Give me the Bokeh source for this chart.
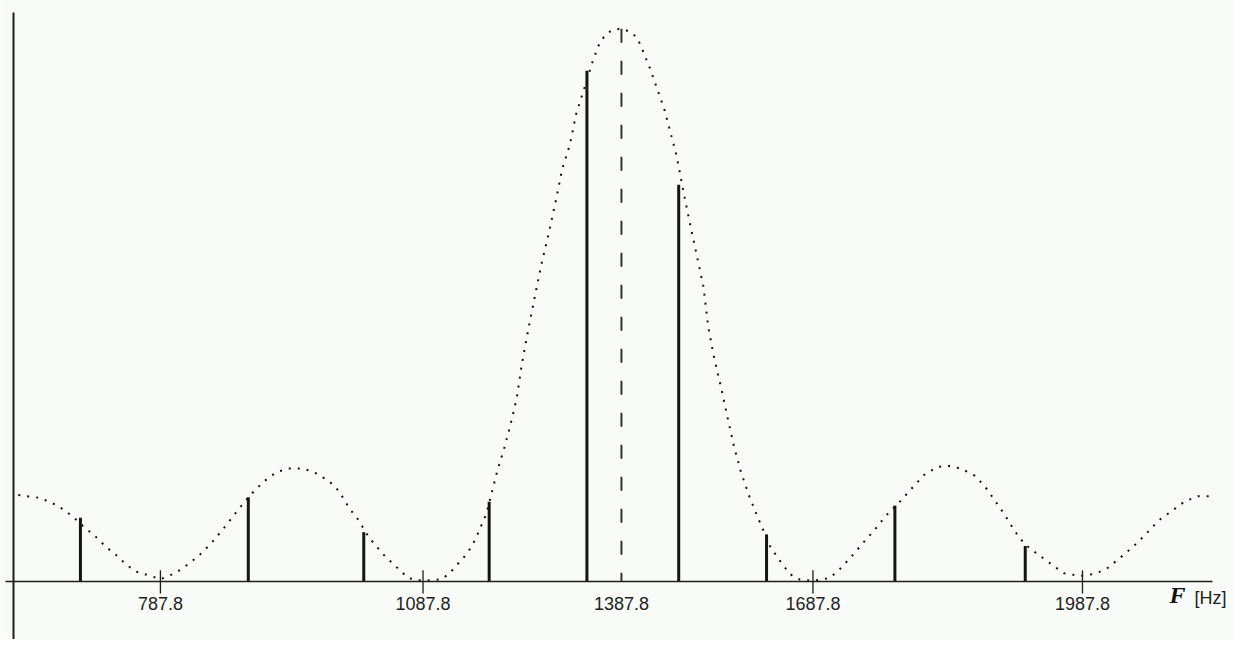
import numpy as np
from bokeh.plotting import figure
from bokeh.models import Range1d, LinearAxis, FixedTicker, Label, ColumnDataSource
from bokeh.embed import file_html
from bokeh.resources import INLINE

# ---------------- data (frequency in Hz, relative amplitude) ----------------
tick_freqs = [787.8, 1087.8, 1387.8, 1687.8, 1987.8]
tick_labels = ["787.8", "1087.8", "1387.8", "1687.8", "1987.8"]
marked_ticks = [787.8, 1087.8, 1687.8, 1987.8]

center_freq = 1387.8
center_amp = 1.0

line_freqs = [696.4, 888.2, 1020.1, 1187.8, 1335.6, 1477.5, 1615.1, 1779.0, 1924.1]
line_amps = [0.116, 0.153, 0.090, 0.145, 0.924, 0.718, 0.086, 0.138, 0.065]

env_freqs = [625.4, 650.2, 670.5, 686.3, 698.7, 714.5, 725.8, 737.0, 748.3, 759.6,
             774.3, 787.8, 804.7, 816.0, 830.7, 845.3, 861.1, 875.8, 890.4, 906.2,
             920.9, 935.5, 951.3, 966.0, 980.7, 991.9, 1003.2, 1014.5, 1025.8, 1041.6,
             1052.8, 1070.9, 1087.8, 1116.2, 1128.1, 1140.0, 1150.5, 1160.9, 1168.4, 1175.9,
             1183.3, 1190.8, 1199.7, 1210.2, 1220.6, 1229.6, 1237.1, 1247.5, 1257.9, 1266.9,
             1277.4, 1289.3, 1298.2, 1310.2, 1319.1, 1332.6, 1344.5, 1355.0, 1363.9, 1374.4,
             1387.8, 1400.2, 1412.5, 1420.3, 1432.6, 1443.5, 1454.3, 1463.6, 1474.4, 1485.2,
             1494.5, 1505.3, 1516.2, 1523.9, 1533.2, 1544.0, 1554.8, 1564.1, 1574.9, 1587.3,
             1602.7, 1621.3, 1639.9, 1652.2, 1664.6, 1687.8, 1706.5, 1717.5, 1730.7, 1742.7,
             1755.9, 1769.1, 1783.4, 1797.7, 1813.1, 1827.4, 1838.3, 1852.6, 1868.0, 1879.0,
             1890.0, 1901.0, 1912.0, 1923.0, 1937.3, 1951.5, 1966.9, 1984.5, 1999.9, 2014.2,
             2028.5, 2043.8, 2058.1, 2072.4, 2087.8, 2102.1, 2116.4, 2132.9]
env_amps = [0.157, 0.152, 0.138, 0.120, 0.102, 0.081, 0.063, 0.049, 0.032, 0.019,
            0.012, 0.005, 0.016, 0.028, 0.046, 0.069, 0.099, 0.129, 0.157, 0.182,
            0.199, 0.205, 0.205, 0.196, 0.182, 0.164, 0.134, 0.111, 0.081, 0.051,
            0.034, 0.007, 0.002, 0.005, 0.016, 0.032, 0.046, 0.063, 0.081, 0.102,
            0.122, 0.157, 0.199, 0.240, 0.287, 0.333, 0.393, 0.460, 0.522, 0.575,
            0.628, 0.693, 0.746, 0.792, 0.845, 0.896, 0.942, 0.975, 0.989, 0.998,
            1.000, 0.995, 0.984, 0.963, 0.928, 0.892, 0.857, 0.817, 0.769, 0.704,
            0.651, 0.593, 0.534, 0.460, 0.404, 0.351, 0.293, 0.245, 0.199, 0.157,
            0.113, 0.063, 0.032, 0.014, 0.005, 0.002, 0.007, 0.023, 0.046, 0.069,
            0.093, 0.120, 0.143, 0.169, 0.196, 0.208, 0.210, 0.205, 0.192, 0.173,
            0.148, 0.122, 0.093, 0.069, 0.051, 0.034, 0.016, 0.011, 0.014, 0.023,
            0.042, 0.063, 0.086, 0.111, 0.129, 0.146, 0.155, 0.155]

# ---------------- layout: the drawing's non-uniform frequency axis ----------------
anchor_freq = [600.0] + tick_freqs + [2200.0]
anchor_pos = [-4.5, 162, 428, 629, 823, 1096, 1289.1]


def warp(f):
    return np.interp(np.asarray(f, dtype=float), anchor_freq, anchor_pos)


BG = "#f9fbf8"
INK = "#1e1e1e"
TICK_HALF = 0.021  # half tick length in amplitude units

p = figure(width=1234, height=639,
           x_range=Range1d(0, 1250), y_range=Range1d(-0.104, 1.051),
           x_axis_type=None, y_axis_type=None,
           toolbar_location=None, output_backend="svg", min_border=0)
p.outline_line_color = None
p.background_fill_color = BG
p.border_fill_color = BG

# envelope (dotted)
env_src = ColumnDataSource(dict(x=warp(env_freqs), y=env_amps))
p.line("x", "y", source=env_src, line_color="#111111", line_width=2, line_dash="2 7")

# spectral lines
lx = warp(line_freqs)
ln_src = ColumnDataSource(dict(x=lx, y0=[0.0] * len(lx), y1=line_amps))
p.segment(x0="x", y0="y0", x1="x", y1="y1", source=ln_src,
          line_color="#151515", line_width=3)

# dashed centre line
cx = float(warp(center_freq))
p.segment(x0=[cx], y0=[center_amp], x1=[cx], y1=[0.0],
          line_color="#333333", line_width=2, line_dash="14 18")

# tick marks crossing the axis
mx = warp(marked_ticks)
p.segment(x0=mx, y0=[-TICK_HALF] * len(mx), x1=mx, y1=[TICK_HALF] * len(mx),
          line_color=INK, line_width=1.3)

tick_pos = [int(round(v)) for v in warp(tick_freqs)]

# x axis line + tick labels
x_ax = LinearAxis(fixed_location=0, ticker=FixedTicker(ticks=tick_pos),
                  bounds=(5, 1228), axis_line_color=INK, axis_line_width=1.5,
                  major_tick_in=0, major_tick_out=0,
                  major_tick_line_color=None, minor_tick_line_color=None,
                  major_label_overrides={k: v for k, v in zip(tick_pos, tick_labels)},
                  major_label_standoff=15,
                  major_label_text_font="Liberation Sans",
                  major_label_text_font_size="18px",
                  major_label_text_color="#1e1e1e")
p.add_layout(x_ax, "below")

# y axis line
y_ax = LinearAxis(fixed_location=13, ticker=FixedTicker(ticks=[]),
                  bounds=(-0.104, 1.030), axis_line_color=INK, axis_line_width=2,
                  major_tick_line_color=None, minor_tick_line_color=None)
p.add_layout(y_ax, "left")

# axis title  F [Hz]
p.add_layout(Label(x=1169, y=32, x_units="screen", y_units="screen", text="F",
                   text_font="Liberation Serif", text_font_style="bold italic",
                   text_font_size="24px", text_color="#111111"))
p.add_layout(Label(x=1194, y=32, x_units="screen", y_units="screen", text="[Hz]",
                   text_font="Liberation Sans", text_font_size="18px",
                   text_color="#1e1e1e"))

open("out.html", "w").write(file_html(p, INLINE))
